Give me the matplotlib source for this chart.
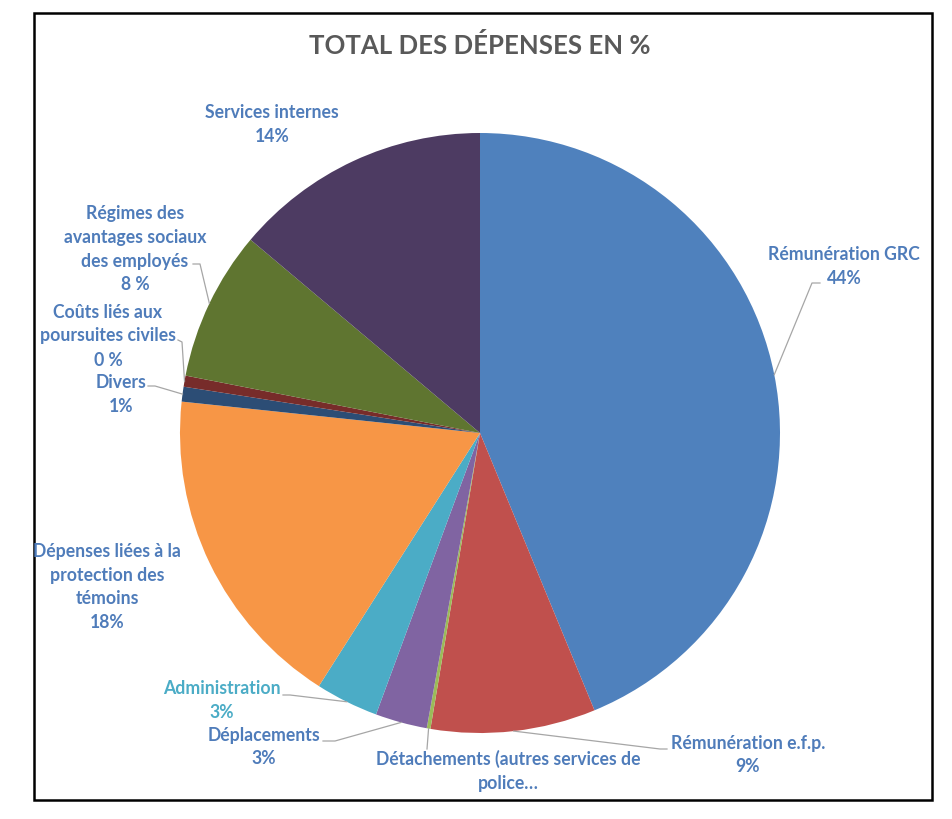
import matplotlib.pyplot as plt
import numpy as np
from matplotlib.patches import Rectangle

plt.rcParams['font.family'] = ['Lato', 'DejaVu Sans']

W, H = 952, 819

categories = ["Rémunération GRC", "Rémunération e.f.p.",
              "Détachements (autres services de\npolice…",
              "Déplacements", "Administration",
              "Dépenses liées à la\nprotection des\ntémoins", "Divers",
              "Coûts liés aux\npoursuites civiles",
              "Régimes des\navantages sociaux\ndes employés",
              "Services internes"]
values = [43.9, 8.9, 0.2, 2.8, 3.4, 17.7, 0.8, 0.6, 8.1, 13.9]
pct_labels = ["44%", "9%", "", "3%", "3%", "18%", "1%", "0 %", "8 %", "14%"]
colors = ["#4F81BD", "#C0504D", "#9BBB59", "#8064A2", "#4BACC6",
          "#F79646", "#2C4D75", "#772C2A", "#5F7530", "#4D3B62"]
label_colors = ["#4F7CBA"] * 4 + ["#4BACC6"] + ["#4F7CBA"] * 5

# label block centres (pixels, y from top)
label_pos = [(844, 266), (748, 755), (508, 771), (264, 747), (222, 701),
             (107, 587), (121, 394), (108, 336), (135, 249), (272, 125)]
# leader line start + elbow (pixels), None = no leader
leaders = [((820, 283), (812, 283)), ((667, 749), (660, 749)),
           ((427, 749), (427, 749)), ((323, 741), (335, 741)),
           ((283, 695), (290, 695)), None, ((148, 386), (155, 386)),
           ((178, 340), (182, 342)), ((193, 264), (200, 264)), None]


def py(y):
    return H - y


cx, cy, r = 480, py(433), 300

fig = plt.figure(figsize=(W / 100, H / 100), dpi=100)
ax = fig.add_axes([0, 0, 1, 1])

wedges, _ = ax.pie(values, colors=colors, startangle=90, counterclock=False,
                   center=(cx, cy), radius=r, wedgeprops=dict(linewidth=0))
ax.set_xlim(0, W)
ax.set_ylim(0, H)
ax.set_aspect('equal')
ax.axis('off')

for i, w in enumerate(wedges):
    txt = categories[i]
    if pct_labels[i]:
        txt = txt + "\n" + pct_labels[i]
    x, y = label_pos[i]
    ax.text(x, py(y), txt, ha='center', va='center', fontsize=12.7,
            fontweight='bold', color=label_colors[i], linespacing=1.5)
    if leaders[i] is not None:
        mid = np.deg2rad((w.theta1 + w.theta2) / 2)
        ex, ey = cx + r * np.cos(mid), cy + r * np.sin(mid)
        (ax0, ay0), (bx, by) = leaders[i]
        ax.plot([ax0, bx, ex], [py(ay0), py(by), ey], color='#A6A6A6', lw=0.9)

ax.text(480, py(46), "TOTAL DES DÉPENSES EN %", ha='center', va='center',
        fontsize=18.5, fontweight='bold', color='#595959')

ax.add_patch(Rectangle((34, py(800)), 898, 787, fill=False, edgecolor='black',
                       lw=1.8, clip_on=False))

fig.savefig('out.png', dpi=100)
